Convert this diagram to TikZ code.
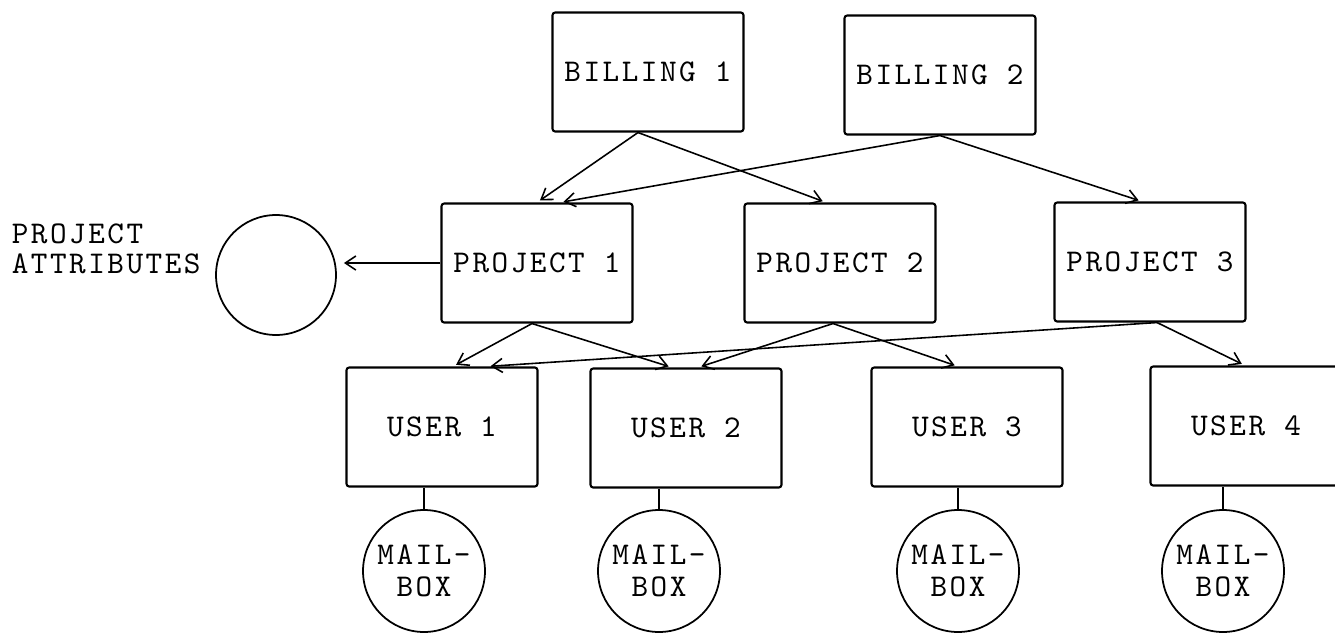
\documentclass[tikz,border=0pt]{standalone}
\usepackage{fontspec}
\newfontfamily\typewriter{lmmono10-regular.otf}[LetterSpace=8]
\usetikzlibrary{arrows.meta,calc}

\tikzset{
  box/.style={draw, line width=1.2pt, rounded corners=1.5pt, minimum width=3.82cm, minimum height=2.38cm, inner sep=0pt},
  store/.style={draw, circle, line width=1pt, minimum size=2.44cm, inner sep=0pt, align=center},
}

\begin{document}
\begin{tikzpicture}[x=0.02cm, y=-0.02cm, >={Straight Barb[length=6pt,width=8pt]}, line width=0.9pt,
    every node/.style={font=\typewriter\fontsize{18}{18.5}\selectfont}]
   \useasboundingbox (0,0) rectangle (1335,636);

   \node[box] (b1) at (648,72) {BILLING 1};
   \node[box] (b2) at (940,75) {BILLING 2};

   \node[box] (p1) at (537,263) {PROJECT 1};
   \node[box] (p2) at (840,263) {PROJECT 2};
   \node[box] (p3) at (1150,262) {PROJECT 3};

   \node[box] (u1) at (442,427) {USER 1};
   \node[box] (u2) at (686,428) {USER 2};
   \node[box] (u3) at (967,427) {USER 3};
   \node[box] (u4) at (1246,426) {USER 4};

   \node[store, minimum size=2.4cm] (attr) at (276,275) {};
   \node[anchor=north west, align=left, inner sep=0pt, font=\typewriter\fontsize{18}{17}\selectfont] (attrtext) at (11,223) {PROJECT\\ATTRIBUTES};

   \node[store] (m1) at (424,571) {MAIL-\\BOX};
   \node[store] (m2) at (659,571) {MAIL-\\BOX};
   \node[store] (m3) at (958,571) {MAIL-\\BOX};
   \node[store] (m4) at (1223,571) {MAIL-\\BOX};

    \path[->, shorten >=2pt]
    ($(b1.south)+(-10,0)$)
        edge (p1.north)
        edge ($(p2.north)+(-14,0)$)
    (b2.south)
        edge ($(p1.north)+(23,0)$)
        edge ($(p3.north)+(-8,0)$)

    ($(p1.south)+(-5,0)$)
        edge ($(u1.north)+(11,0)$)
        edge ($(u2.north)+(-14,0)$)
    ($(p2.south)+(-7,0)$)
        edge ($(u2.north)+(12,0)$)
        edge ($(u3.north)+(-9,0)$)
    ($(p3.south)+(7,0)$)
        edge ($(u1.north)+(45,0)$)
        edge ($(u4.north)+(-1,0)$);

    \draw[->, shorten >=4pt] (p1.west) -- (p1.west -| attr.east);

    % mailboxes hang under their users
    \foreach \u/\m in {u1/m1, u2/m2, u3/m3, u4/m4}
      \draw (\m.north) -- (\m.north |- \u.south);
\end{tikzpicture}
\end{document}
